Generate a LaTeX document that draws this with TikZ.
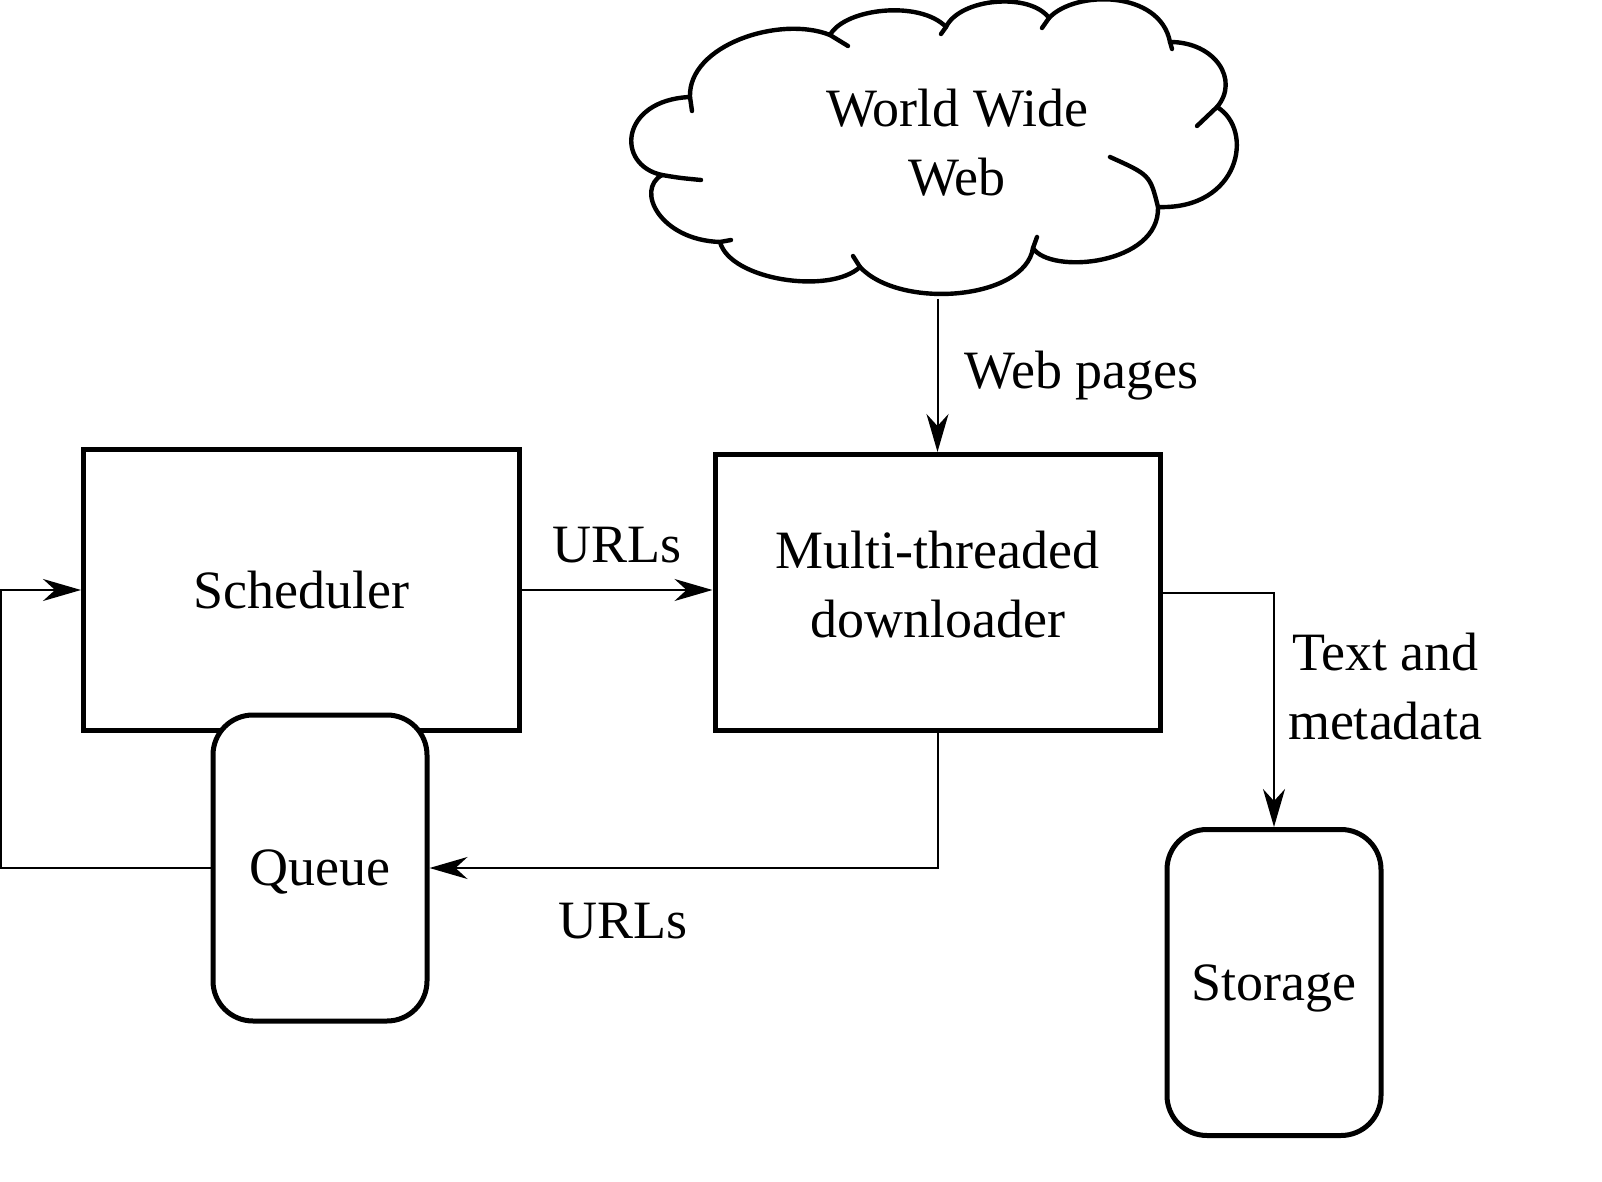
\documentclass[tikz,border=0pt]{standalone}
\usepackage{fontspec}
\setmainfont{Liberation Serif}
\usepackage{tikz}
\usetikzlibrary{shapes,arrows.meta,positioning}
\tikzstyle{block} = [rectangle, draw, line width=2.5pt, align=center, minimum width=218pt, minimum height=140.5pt]
\tikzstyle{tank} = [rectangle, draw, line width=2.5pt, rounded corners=20pt, fill=white, align=center, text depth=0pt, minimum width=107pt, minimum height=153pt]
\tikzstyle{lbl} = [inner sep=0pt, align=center]
\tikzstyle{link} = [line width=1pt]
\tikzstyle{puff} = [line width=2.2pt, line cap=round, line join=round]

\begin{document}
\begin{tikzpicture}[x=0.5pt, y=-0.5pt, >={Stealth[length=19pt,width=11pt,inset=6pt]}, font=\fontsize{27pt}{34.5pt}\selectfont]
	\useasboundingbox (0,0) rectangle (1602,1182);
	% the cloud
	\draw[puff] (690,97) .. controls (688,45) and (780,15) .. (830,35)
		.. controls (845,8) and (920,0) .. (946,27)
		.. controls (960,-2) and (1030,-8) .. (1049,18)
		.. controls (1075,-10) and (1160,-10) .. (1170,42)
		.. controls (1215,42) and (1240,80) .. (1217,107)
		.. controls (1255,130) and (1240,210) .. (1158,207)
		.. controls (1160,265) and (1050,275) .. (1033,248)
		.. controls (1025,300) and (900,310) .. (860,267)
		.. controls (830,295) and (730,280) .. (720,242)
		.. controls (660,240) and (635,190) .. (662,175)
		.. controls (615,165) and (620,100) .. cycle;
	\foreach \xa/\ya/\xb/\yb in {830/35/848/46, 946/27/941/34, 1049/18/1042/28, 1170/42/1172/49, 1217/107/1197/126, 1033/248/1037/237, 860/267/853/256, 720/242/731/240, 690/97/692/111}
		\draw[puff] (\xa,\ya) -- (\xb,\yb);
	\draw[puff] (1158,207) .. controls (1150,175) .. (1110,157);
	\draw[puff] (662,175) .. controls (680,178) .. (701,180);
	\node[lbl] (www) at (957,143) {World Wide\\Web};
	\coordinate (wwwb) at (937.5,299);

	\node[block] (sched) at (301.5,590) {Scheduler};
	\node[block, minimum width=222.5pt, minimum height=138pt, text depth=8.5pt] (dl) [right of=sched, node distance=318pt, yshift=-1.25pt] {Multi-threaded\\downloader};
	\node[tank] (queue) [below of=sched, node distance=139pt, xshift=9.25pt] {Queue};
	\node[tank] (store) at (1274,982.5) {Storage};

	\draw[link,->] (wwwb) -- node[lbl, right=13pt] {Web pages} (dl.north);
	\draw[link,->] (sched.east) -- node[lbl, above=13pt] {URLs} (sched.east -| dl.west);
	\draw[link,->] (dl.south) |- node[lbl, below=17pt, pos=0.81] {URLs} (queue.east);
	\coordinate (edge) at (1,700);
	\draw[link,->] (queue.west) -| (edge) |- (sched.west);
	\draw[link,->] (dl.east) -| node[lbl, right=6.5pt, pos=0.75, yshift=11.5pt] {Text and\\metadata} (store.north);
\end{tikzpicture}
\end{document}
